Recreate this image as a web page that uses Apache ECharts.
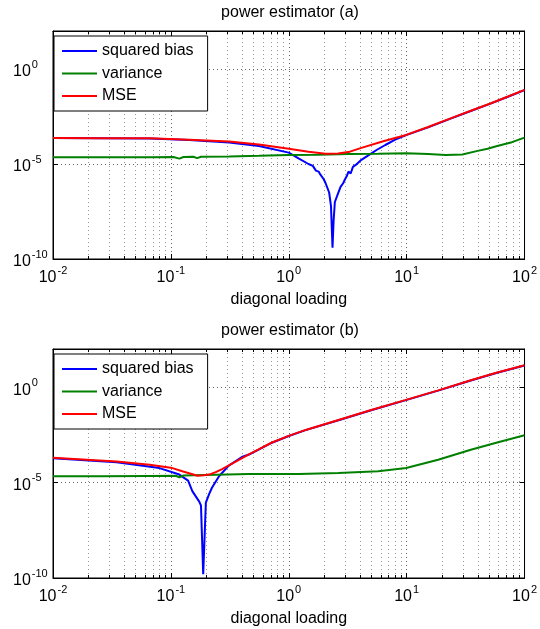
<!DOCTYPE html>
<html><head><meta charset="utf-8">
<script src="https://cdn.jsdelivr.net/npm/echarts@6/dist/echarts.min.js"></script>
<style>html,body{margin:0;padding:0;background:#fff}#c{width:540px;height:629px}</style>
</head><body><div id="c"></div>
<script>
const FONT = '"Liberation Sans", Arial, Helvetica, sans-serif';
const titles = ['power estimator (a)', 'power estimator (b)'];
const xLabel = 'diagonal loading';
const seriesNames = ['squared bias', 'variance', 'MSE'];
const seriesColors = ['#0000ff', '#008000', '#ff0000'];
const yTickValues = [1e-10, 1e-5, 1];
const xMinor = [0.02,0.03,0.04,0.05,0.06,0.07,0.08,0.09,
                0.2,0.3,0.4,0.5,0.6,0.7,0.8,0.9,
                2,3,4,5,6,7,8,9,
                20,30,40,50,60,70,80,90];

// ---- plot (a) ----
const biasA = [[0.01,2.34e-4],[0.025,2.29e-4],[0.066,2.19e-4],[0.143,1.82e-4],[0.312,1.35e-4],
  [0.558,8.91e-5],[1.0,3.98e-5],[1.21,2.0e-5],[1.47,1.0e-5],[1.6,7.94e-6],[1.7,4.47e-6],[1.75,5.62e-6],
  [1.79,3.98e-6],[1.85,2.82e-6],[1.9,3.16e-6],[1.98,1.58e-6],[2.05,1.0e-6],[2.2,3.16e-7],[2.28,6.31e-8],
  [2.35,3.98e-10],[2.4,1.0e-8],[2.46,1.0e-7],[2.6,2.51e-7],[2.75,6.31e-7],[2.9,1.0e-6],[3.0,1.58e-6],
  [3.1,2.24e-6],[3.21,3.98e-6],[3.35,3.16e-6],[3.5,7.08e-6],[3.7,8.91e-6],[4.13,1.66e-5],[4.73,2.82e-5],
  [5.6,5.62e-5],[6.59,1.0e-4],[8.0,1.91e-4],[9.9,3.31e-4],[15.2,8.51e-4],[23.6,2.45e-3],[35,6.17e-3],
  [52,1.55e-2],[72.3,3.47e-2],[100,7.76e-2]];
const varianceA = [[0.01,2.24e-5],[0.025,2.24e-5],[0.066,2.29e-5],[0.105,2.34e-5],[0.118,1.91e-5],
  [0.128,2.34e-5],[0.155,2.4e-5],[0.167,2.04e-5],[0.18,2.4e-5],[0.312,2.51e-5],[0.558,2.69e-5],
  [1.0,2.95e-5],[1.79,3.09e-5],[3.21,3.31e-5],[5.74,3.47e-5],[9.9,3.72e-5],[15.2,3.31e-5],
  [21.4,2.95e-5],[29.7,3.16e-5],[40,4.9e-5],[48.6,6.31e-5],[58.6,8.91e-5],[78.1,1.41e-4],[100,2.45e-4]];
const mseA = [[0.01,2.34e-4],[0.025,2.29e-4],[0.066,2.24e-4],[0.143,1.91e-4],[0.312,1.51e-4],
  [0.558,1.05e-4],[1.0,6.31e-5],[1.47,4.47e-5],[2.05,3.47e-5],[2.62,3.55e-5],[3.3,4.47e-5],
  [4.13,7.08e-5],[6.33,1.58e-4],[9.9,3.39e-4],[15.2,8.91e-4],[23.6,2.51e-3],[35,6.31e-3],
  [52,1.58e-2],[72.3,3.55e-2],[100,7.94e-2]];

// ---- plot (b) ----
const biasB = [[0.01,1.91e-4],[0.0346,1.15e-4],[0.08,5.75e-5],[0.118,2.63e-5],[0.14,1.26e-5],
  [0.152,3.55e-6],[0.174,1.0e-6],[0.18,6.31e-7],[0.188,1.58e-10],[0.198,8.91e-7],[0.211,2.51e-6],
  [0.223,5.37e-6],[0.256,2.14e-5],[0.31,7.76e-5],[0.4,2.19e-4],[0.459,2.95e-4],[0.56,5.5e-4],
  [0.72,1.23e-3],[1.0,2.75e-3],[1.39,5.62e-3],[2.64,1.86e-2],[5.0,6.17e-2],[9.7,2.04e-1],
  [18.5,0.66],[35,2.24],[58.6,5.75],[100,13.8]];
const varianceB = [[0.01,2.14e-5],[0.025,2.14e-5],[0.066,2.24e-5],[0.11,2.29e-5],[0.118,1.91e-5],
  [0.128,2.34e-5],[0.459,2.82e-5],[1.21,2.82e-5],[2.64,3.16e-5],[5.74,3.98e-5],[9.9,5.75e-5],
  [18.5,1.58e-4],[35,5.25e-4],[58.6,1.26e-3],[100,3.02e-3]];
const mseB = [[0.01,2.0e-4],[0.0346,1.29e-4],[0.066,8.71e-5],[0.103,5.75e-5],[0.125,3.89e-5],
  [0.145,3.02e-5],[0.168,2.29e-5],[0.19,2.4e-5],[0.211,2.63e-5],[0.24,3.55e-5],[0.272,5.13e-5],
  [0.358,1.29e-4],[0.459,3.02e-4],[0.56,5.62e-4],[0.72,1.26e-3],[1.0,2.82e-3],[1.39,5.75e-3],
  [2.64,1.91e-2],[5.0,6.31e-2],[9.7,2.09e-1],[18.5,0.676],[35,2.29],[58.6,5.89],[100,14.1]];

const plotData = [[biasA, varianceA, mseA], [biasB, varianceB, mseB]];
const gridTops = [31, 349];
const gridHeights = [228, 229];
const X_MIN = 0.01, X_MAX = 100, Y_MIN = 1e-10, Y_MAX = 100;

const rich = {
  b: {fontSize: 16, fontFamily: FONT, color: '#000', lineHeight: 18, verticalAlign: 'middle'},
  s: {fontSize: 11, fontFamily: FONT, color: '#000', lineHeight: 11, verticalAlign: 'middle', padding: [0, 0, 15, 1]}
};
function expLabel(v) {
  const e = Math.round(Math.log10(v));
  return '{b|10}{s|' + e + '}';
}
function yLabel(v) {
  const ok = yTickValues.some(t => Math.abs(Math.log10(t) - Math.log10(v)) < 1e-6);
  return ok ? expLabel(v) : '';
}

const grid = [], xAxis = [], yAxis = [], series = [], legend = [], graphic = [];
for (let g = 0; g < 2; g++) {
  grid.push({left: 53, right: 13, top: gridTops[g], height: gridHeights[g], show: true,
    borderColor: '#000', borderWidth: 1, backgroundColor: '#fff', containLabel: false});
  xAxis.push({type: 'log', logBase: 10, gridIndex: g, min: X_MIN, max: X_MAX, position: 'bottom',
    axisLine: {show: true, lineStyle: {color: '#000', width: 1}},
    axisTick: {show: true, inside: true, length: 5, lineStyle: {color: '#000'}},
    axisLabel: {formatter: expLabel, rich: rich, margin: 10, color: '#000'},
    splitLine: {show: true, lineStyle: {color: '#666', type: [1, 3], width: 1}},
    minorTick: {show: false}, minorSplitLine: {show: false},
    name: xLabel, nameLocation: 'middle', nameGap: 30,
    nameTextStyle: {fontSize: 16, fontFamily: FONT, color: '#000'}});
  xAxis.push({type: 'log', logBase: 10, gridIndex: g, min: X_MIN, max: X_MAX, position: 'top',
    axisLine: {show: true, lineStyle: {color: '#000'}},
    axisTick: {show: true, inside: true, length: 5, lineStyle: {color: '#000'}},
    axisLabel: {show: false}, splitLine: {show: false}});
  yAxis.push({type: 'log', logBase: 10, gridIndex: g, min: Y_MIN, max: Y_MAX, interval: 5, position: 'left',
    axisLine: {show: true, lineStyle: {color: '#000', width: 1}},
    axisTick: {show: true, inside: true, length: 5, lineStyle: {color: '#000'}},
    axisLabel: {formatter: yLabel, rich: rich, margin: 40, align: 'left', color: '#000', padding: [6, 0, 0, 0]},
    splitLine: {show: true, lineStyle: {color: '#666', type: [1, 3], width: 1}}});
  yAxis.push({type: 'log', logBase: 10, gridIndex: g, min: Y_MIN, max: Y_MAX, interval: 5, position: 'right',
    axisLine: {show: true, lineStyle: {color: '#000'}},
    axisTick: {show: true, inside: true, length: 5, lineStyle: {color: '#000'}},
    axisLabel: {show: false}, splitLine: {show: false}});

  series.push({type: 'custom', name: 'minorgrid' + g, xAxisIndex: 2 * g, yAxisIndex: 2 * g, silent: true, z: 1,
    data: xMinor.map(v => [v, 1]), encode: {x: 0, y: 1},
    renderItem: function (params, api) {
      const x = api.value(0);
      const p0 = api.coord([x, Y_MIN]);
      const p1 = api.coord([x, Y_MAX]);
      const px = Math.round(p0[0]) + 0.5;
      return {type: 'group', children: [
        {type: 'line', shape: {x1: px, y1: p0[1], x2: px, y2: p1[1]},
          style: {stroke: '#999', lineWidth: 1, lineDash: [1, 3]}},
        {type: 'line', shape: {x1: px, y1: p0[1], x2: px, y2: p0[1] - 3}, style: {stroke: '#000', lineWidth: 1}},
        {type: 'line', shape: {x1: px, y1: p1[1], x2: px, y2: p1[1] + 3}, style: {stroke: '#000', lineWidth: 1}}
      ]};
    }});
  for (let s = 0; s < 3; s++) {
    series.push({type: 'line', name: seriesNames[s], xAxisIndex: 2 * g, yAxisIndex: 2 * g,
      data: plotData[g][s], symbol: 'none', showSymbol: false, z: 3 + s,
      lineStyle: {color: seriesColors[s], width: 2}, itemStyle: {color: seriesColors[s]},
      animation: false});
  }
  legend.push({left: 54, top: gridTops[g] + 5, orient: 'vertical', icon: 'rect', itemWidth: 35, itemHeight: 2,
    itemGap: 4.5, padding: [6, 14, 6, 8], borderColor: '#000', borderWidth: 1, backgroundColor: '#fff',
    textStyle: {fontSize: 16, fontFamily: FONT, color: '#000', lineHeight: 18},
    data: seriesNames, selectedMode: false, z: 10});
  graphic.push({type: 'text', x: 290, y: gridTops[g] - 18,
    style: {text: titles[g], fontSize: 16, fontFamily: FONT, fill: '#000',
      align: 'center', verticalAlign: 'middle', textAlign: 'center', textVerticalAlign: 'middle'}});
}

const chart = echarts.init(document.getElementById('c'), null, {renderer: 'canvas'});
chart.setOption({animation: false, backgroundColor: '#fff', grid, xAxis, yAxis, series, legend, graphic});
</script>
</body></html>
